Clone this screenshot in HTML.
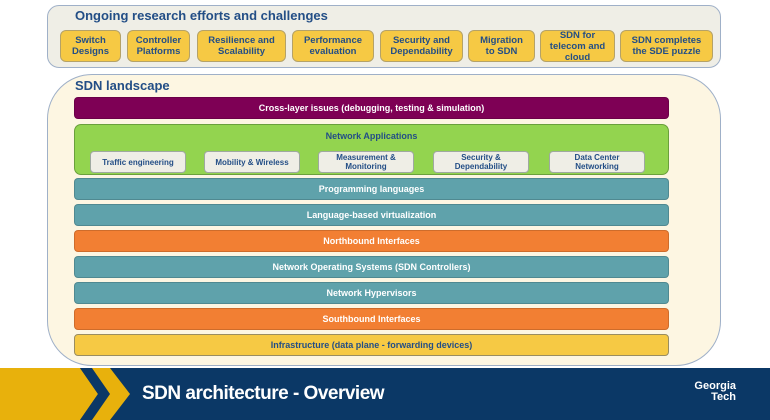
<!DOCTYPE html>
<html><head><meta charset="utf-8"><style>
*{box-sizing:border-box;margin:0;padding:0}
body{width:770px;height:420px;background:#fff;position:relative;overflow:hidden;font-family:"Liberation Sans",Arial,sans-serif;font-weight:bold}
.a{position:absolute}
.panel{background:#efeee6;border:1.5px solid #9fb0c8;border-radius:12px}
.yb{background:#f6c944;border:1.5px solid #b5a267;border-radius:6px;color:#234e86;font-size:9.5px;line-height:11px;display:flex;align-items:center;justify-content:center;text-align:center}
.bar{left:74px;width:595px;height:22px;border-radius:4px;color:#fff;font-size:9px;display:flex;align-items:center;justify-content:center;border:1px solid rgba(0,0,0,.15)}
.teal{background:#5fa2ab}.org{background:#f27f33}
.sub{background:#efeee6;border:1.5px solid #9fa9a0;border-radius:4px;color:#234e86;font-size:8px;line-height:9px;display:flex;align-items:center;justify-content:center;text-align:center;top:151px;height:22px;width:96px}
</style></head><body>
<div class="a panel" style="left:47px;top:5px;width:674px;height:63px"></div>
<div class="a" style="left:75px;top:8px;font-size:13px;color:#234e86">Ongoing research efforts and challenges</div>
<div class="a yb" style="left:60px;top:30px;width:61px;height:32px">Switch<br>Designs</div>
<div class="a yb" style="left:127px;top:30px;width:63px;height:32px">Controller<br>Platforms</div>
<div class="a yb" style="left:197px;top:30px;width:89px;height:32px">Resilience and<br>Scalability</div>
<div class="a yb" style="left:292px;top:30px;width:82px;height:32px">Performance<br>evaluation</div>
<div class="a yb" style="left:380px;top:30px;width:83px;height:32px">Security and<br>Dependability</div>
<div class="a yb" style="left:468px;top:30px;width:67px;height:32px">Migration<br>to SDN</div>
<div class="a yb" style="left:540px;top:30px;width:75px;height:32px">SDN for<br>telecom and<br>cloud</div>
<div class="a yb" style="left:620px;top:30px;width:93px;height:32px">SDN completes<br>the SDE puzzle</div>

<div class="a" style="left:47px;top:74px;width:674px;height:292px;background:#fdf6e2;border:1.5px solid #9fb0c8;border-radius:45px"></div>
<div class="a" style="left:75px;top:78px;font-size:13px;color:#234e86">SDN landscape</div>
<div class="a bar" style="top:97px;background:#7e0055">Cross-layer issues (debugging, testing &amp; simulation)</div>
<div class="a" style="left:74px;top:124px;width:595px;height:51px;background:#93d44f;border:1px solid #6aa03c;border-radius:7px"></div>
<div class="a" style="left:74px;width:595px;top:131px;text-align:center;font-size:9px;color:#234e86">Network Applications</div>
<div class="a sub" style="left:90px">Traffic engineering</div>
<div class="a sub" style="left:204px">Mobility &amp; Wireless</div>
<div class="a sub" style="left:318px">Measurement &amp;<br>Monitoring</div>
<div class="a sub" style="left:433px">Security &amp;<br>Dependability</div>
<div class="a sub" style="left:549px">Data Center<br>Networking</div>
<div class="a bar teal" style="top:178px">Programming languages</div>
<div class="a bar teal" style="top:204px">Language-based virtualization</div>
<div class="a bar org" style="top:230px">Northbound Interfaces</div>
<div class="a bar teal" style="top:256px">Network Operating Systems (SDN Controllers)</div>
<div class="a bar teal" style="top:282px">Network Hypervisors</div>
<div class="a bar org" style="top:308px">Southbound Interfaces</div>
<div class="a bar" style="top:334px;background:#f6c944;color:#234e86;border-color:#9a8d60">Infrastructure (data plane - forwarding devices)</div>

<div class="a" style="left:0;top:368px;width:770px;height:52px;background:#0b3866"></div>
<svg class="a" style="left:0;top:368px" width="140" height="52">
<polygon points="0,0 80,0 98,26 80,52 0,52" fill="#e8b10c"/>
<polygon points="80,0 92,0 110,26 92,52 80,52 98,26" fill="#0b3866"/>
<polygon points="92,0 110,0 130,26 110,52 92,52 110,26" fill="#e8b10c"/>
</svg>
<div class="a" style="left:142px;top:383px;font-size:19px;color:#fff;letter-spacing:-0.5px">SDN architecture - Overview</div>
<div class="a" style="left:664px;top:381px;font-size:11px;line-height:11px;color:#fff;text-align:right;width:72px">Georgia<br>Tech</div>
</body></html>
